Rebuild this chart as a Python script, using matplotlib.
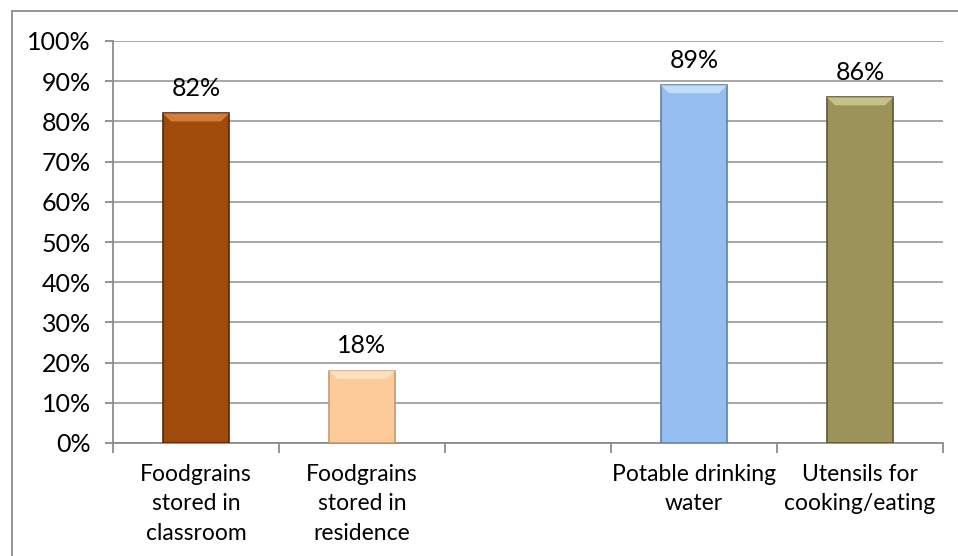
import numpy as np
import matplotlib.pyplot as plt
from matplotlib.patches import Rectangle
from matplotlib.ticker import PercentFormatter

# data
categories = ["Foodgrains\nstored in\nclassroom", "Foodgrains\nstored in\nresidence", "",
              "Potable drinking\nwater", "Utensils for\ncooking/eating"]
values = [82, 18, None, 89, 86]
colors = ["#A04A0C", "#FDCB9A", None, "#96BDEF", "#9C935A"]
edges = ["#5A2806", "#C79A70", None, "#5F7FA8", "#5C5630"]
tops = ["#E08A4A", "#FFE6C8", None, "#CDE6FC", "#D2CC94"]

plt.rcParams["font.family"] = ["Lato", "DejaVu Sans"]
fs = 18

fig = plt.figure(figsize=(9.58, 5.56), dpi=100)
ax = fig.add_axes([113 / 958, 1 - 443 / 556, 830 / 958, 402 / 556])

# outer frame of the chart area
fig.patches.append(Rectangle((12 / 958, -0.1), 1.2, 1 - 11 / 556 + 0.1,
                             transform=fig.transFigure, fill=False,
                             edgecolor="#8C8C8C", linewidth=1.3))

x = np.arange(len(categories))
w = 0.4
for i, v in enumerate(values):
    if v is None:
        continue
    ax.bar(x[i], v, width=w, color=colors[i], edgecolor=edges[i], linewidth=1.2, zorder=3)
    # top bevel
    dx, dy = 0.05, 2.0
    ax.fill([x[i] - w / 2, x[i] + w / 2, x[i] + w / 2 - dx, x[i] - w / 2 + dx],
            [v, v, v - dy, v - dy], color=tops[i], alpha=0.8, zorder=4, linewidth=0)
    ax.text(x[i], v + 6.2, f"{v}%", ha="center", va="center", fontsize=fs, zorder=5)

ax.set_xlim(-0.5, len(categories) - 0.5)
ax.set_ylim(0, 100)
ax.set_yticks(np.arange(0, 101, 10))
ax.yaxis.set_major_formatter(PercentFormatter(decimals=0))
ax.yaxis.grid(True, color="#A0A0A0", linewidth=1.3, zorder=0)
ax.set_axisbelow(True)

ax.set_xticks(x)
ax.set_xticklabels(categories, fontsize=16.5, linespacing=1.5)
ax.set_xticks(np.arange(-0.5, len(categories)), minor=True)
ax.tick_params(axis="x", which="major", length=0, pad=15)
ax.tick_params(axis="x", which="minor", length=7, width=1.3, color="#8C8C8C", direction="out")
ax.tick_params(axis="y", length=6, width=1.3, color="#8C8C8C", labelsize=fs, pad=10)

for s in ["top", "right"]:
    ax.spines[s].set_visible(False)
for s in ["left", "bottom"]:
    ax.spines[s].set_color("#8C8C8C")
    ax.spines[s].set_linewidth(1.3)

plt.savefig("out.png", dpi=100)
